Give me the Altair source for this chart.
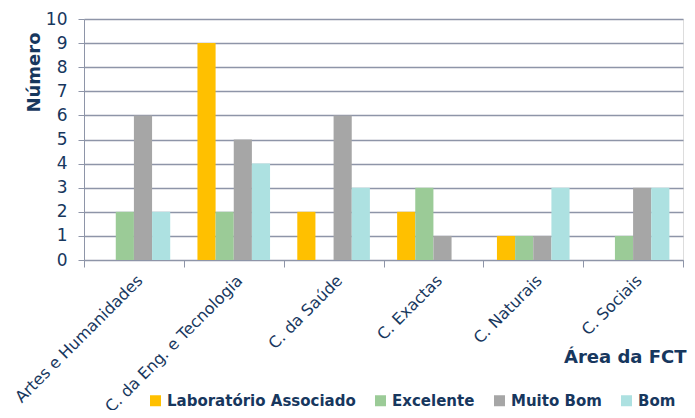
import altair as alt
import pandas as pd

categories = ["Artes e Humanidades", "C. da Eng. e Tecnologia", "C. da Saúde",
              "C. Exactas", "C. Naturais", "C. Sociais"]
series = ["Laboratório Associado", "Excelente", "Muito Bom", "Bom"]
lab = [0, 9, 2, 2, 1, 0]
excelente = [2, 2, 0, 3, 1, 1]
muito_bom = [6, 5, 6, 1, 1, 3]
bom = [2, 4, 3, 0, 3, 3]
colors = ["#FFC000", "#9BCB97", "#A6A6A6", "#ADE1E1"]

rows = []
for s, vals in zip(series, [lab, excelente, muito_bom, bom]):
    for c, v in zip(categories, vals):
        rows.append({"Área": c, "Série": s, "Número": v})
df = pd.DataFrame(rows)

TXT = "#17375E"
GRID = "#8E95A8"
FONT = "DejaVu Sans"

W, H = 599, 241

chart = alt.Chart(df).mark_bar().encode(
    x=alt.X("Área:N", sort=categories,
            scale=alt.Scale(paddingInner=0, paddingOuter=0),
            axis=alt.Axis(title="Área da FCT", labelAngle=-45, labelFontSize=16,
                          labelColor=TXT, labelFont=FONT, labelPadding=5,
                          labelLimit=300,
                          tickBand="extent", tickSize=7, tickColor=GRID,
                          domainColor=GRID, titleFont=FONT, titleFontSize=18,
                          titleFontWeight="bold", titleColor=TXT,
                          titleAnchor="end", titleAlign="right",
                          titleX=W + 3, titleY=102, titleBaseline="alphabetic")),
    xOffset=alt.XOffset("Série:N", sort=series,
                        scale=alt.Scale(paddingInner=0, paddingOuter=0.75)),
    y=alt.Y("Número:Q", scale=alt.Scale(domain=[0, 10]),
            axis=alt.Axis(title="Número", values=list(range(11)), labelFontSize=17,
                          labelColor=TXT, labelFont=FONT, labelPadding=11,
                          tickSize=6, tickColor=GRID, gridColor=GRID, gridWidth=1.3,
                          domainColor=GRID, titleFont=FONT, titleFontSize=18,
                          titleFontWeight="bold", titleColor=TXT,
                          titleAnchor="end", titleAngle=-90, titleAlign="right",
                          titleX=-41, titleY=13, titleBaseline="bottom")),
    color=alt.Color("Série:N", sort=series,
                    scale=alt.Scale(domain=series, range=colors),
                    legend=alt.Legend(title=None, orient="none", direction="horizontal",
                                      legendX=64, legendY=374, symbolType="square",
                                      symbolSize=121, symbolStrokeWidth=0,
                                      labelFont=FONT, labelFontSize=15,
                                      labelFontWeight="bold", labelColor=TXT,
                                      labelLimit=400,
                                      columnPadding=17, labelOffset=4)),
).properties(
    width=W, height=H,
    autosize=alt.AutoSizeParams(type="none"),
    padding={"left": 76, "top": 11, "right": 4, "bottom": 150},
).configure_view(
    stroke=None
).configure(background="white")

chart.save("out.html", embed_options={"renderer": "svg", "actions": False})
